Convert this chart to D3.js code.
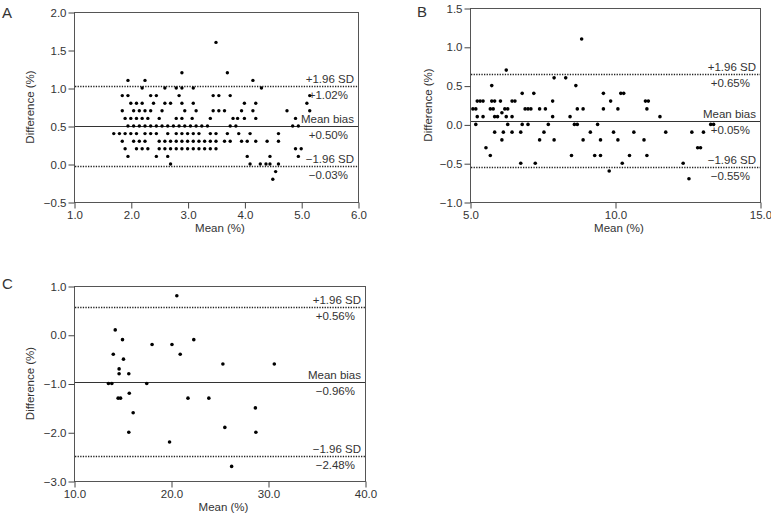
<!DOCTYPE html>
<html>
<head>
<meta charset="utf-8">
<script src="https://cdn.jsdelivr.net/npm/d3@7"></script>
<style>
  html, body { margin: 0; padding: 0; background: #fff; }
  svg { display: block; }
  text { font-family: "Liberation Sans", Arial, Helvetica, sans-serif; }
</style>
</head>
<body>
<svg id="chart" width="771" height="515"></svg>
<script>
// ---------- Panel A data (mean %, difference %) ----------
const aRowDiffs = [1.6, 1.2, 1.1, 1.0, 0.9, 0.8, 0.7, 0.6, 0.5, 0.4, 0.3, 0.2, 0.1, 0.0, -0.1, -0.2];
const aRowMeans = [
  [3.50],
  [2.90, 3.70],
  [1.95, 2.25, 4.15],
  [2.20, 2.60, 2.80, 2.90, 3.10, 4.30],
  [1.85, 1.95, 2.35, 2.45, 2.85, 3.45, 3.55, 3.75, 5.15],
  [2.00, 2.10, 2.20, 2.40, 2.60, 2.70, 2.90, 3.10, 4.00, 4.20, 5.10],
  [1.85, 2.05, 2.15, 2.25, 2.35, 2.55, 2.95, 3.15, 3.45, 3.55, 3.65, 3.95, 4.15, 4.75, 5.15],
  [1.90, 2.00, 2.10, 2.20, 2.30, 2.50, 2.80, 2.90, 3.08, 3.40, 3.80, 3.88, 4.00, 4.20, 4.90],
  [1.95, 2.05, 2.15, 2.25, 2.35, 2.45, 2.55, 2.65, 2.75, 2.85, 2.95, 3.05, 3.15, 3.25, 3.35, 3.75, 3.85, 4.85, 4.95],
  [1.70, 1.80, 1.90, 2.00, 2.10, 2.25, 2.35, 2.45, 2.65, 2.80, 2.90, 3.00, 3.10, 3.20, 3.40, 3.50, 3.70, 3.90, 4.10, 4.60],
  [1.85, 2.05, 2.15, 2.25, 2.50, 2.60, 2.70, 2.80, 2.90, 3.00, 3.10, 3.20, 3.30, 3.40, 3.50, 3.65, 3.75, 3.95, 4.05, 4.20, 4.40, 4.60],
  [1.90, 2.10, 2.20, 2.30, 2.50, 2.60, 2.70, 2.80, 2.90, 3.00, 3.10, 3.20, 3.30, 3.40, 3.50, 4.90, 5.00],
  [1.95, 2.45, 2.65, 4.05, 4.45, 4.95],
  [2.70, 4.10, 4.28, 4.38, 4.45, 4.60],
  [4.55],
  [4.50]
];
const aLimits = { upper: 1.02, mean: 0.50, lower: -0.03 };
const aLimitLabels = ["+1.02%", "+0.50%", "\u22120.03%"];
const aXTicks = [1, 2, 3, 4, 5, 6];
const aYTicks = [-0.5, 0, 0.5, 1.0, 1.5, 2.0];

// ---------- Panel B data ----------
const bMean = [5.10, 5.20, 5.25, 5.35, 5.45, 5.25, 5.45, 5.20,
  5.70, 5.80, 5.75, 5.85, 5.75, 5.85, 5.95, 5.55, 5.70, 5.85,
  6.05, 6.10, 6.10, 6.15, 6.20, 6.30, 6.25, 6.25, 6.30, 6.45, 6.55, 6.45, 6.45,
  6.75, 6.75, 6.80, 6.80, 6.90, 7.00, 7.10, 7.00, 7.20, 7.25, 7.40, 7.40, 7.55, 7.60, 7.70, 7.85, 7.85, 7.90, 7.90,
  8.30, 8.45, 8.50, 8.65, 8.70, 8.60, 8.70, 8.90, 8.90, 8.85,
  9.15, 9.30, 9.40, 9.50, 9.50, 9.60, 9.60, 9.80, 9.85, 9.95, 10.10, 10.10, 10.20, 10.30, 10.25, 10.50, 10.65,
  11.00, 11.05, 11.15, 11.10, 11.10, 11.55, 11.75, 12.35, 12.55, 12.65, 12.85, 12.95, 13.05, 13.30, 13.40];
const bDiff = [0.2, 0.2, 0.3, 0.3, 0.3, 0.1, 0.1, 0.0,
  0.2, 0.2, 0.3, 0.3, 0.5, 0.1, 0.1, -0.3, -0.4, -0.1,
  0.3, 0.15, -0.2, -0.1, 0.2, 0.2, 0.1, 0.7, 0.0, 0.3, 0.3, 0.1, -0.1,
  -0.1, -0.5, 0.4, 0.0, 0.2, 0.2, 0.2, 0.0, 0.4, -0.5, 0.2, -0.2, -0.1, 0.2, 0.0, 0.3, 0.1, 0.6, -0.2,
  0.6, 0.1, -0.4, 0.5, 0.2, 0.0, 0.0, 0.2, -0.2, 1.1,
  -0.1, -0.4, 0.0, -0.2, -0.4, 0.4, 0.2, -0.6, 0.3, -0.1, 0.2, -0.2, 0.4, 0.4, -0.5, -0.4, -0.1,
  -0.2, 0.3, 0.3, 0.2, -0.4, 0.1, -0.1, -0.5, -0.7, -0.1, -0.3, -0.3, -0.1, 0.0, 0.0];
const bLimits = { upper: 0.65, mean: 0.05, lower: -0.55 };
const bLimitLabels = ["+0.65%", "+0.05%", "\u22120.55%"];
const bXTicks = [5, 10, 15];
const bYTicks = [-1.0, -0.5, 0, 0.5, 1.0, 1.5];

// ---------- Panel C data ----------
const cMean = [20.60, 14.25, 15.00, 18.05, 20.10, 22.35, 14.05, 20.95, 15.10, 14.65,
  14.65, 15.65, 13.55, 13.90, 17.50, 14.55, 14.80, 15.70, 21.75, 16.10,
  15.65, 19.85, 25.35, 30.65, 23.90, 28.70, 25.55, 28.75, 26.25];
const cDiff = [0.8, 0.1, -0.1, -0.2, -0.2, -0.1, -0.4, -0.4, -0.5, -0.7,
  -0.8, -0.8, -1.0, -1.0, -1.0, -1.3, -1.3, -1.2, -1.3, -1.6,
  -2.0, -2.2, -0.6, -0.6, -1.3, -1.5, -1.9, -2.0, -2.7];
const cLimits = { upper: 0.56, mean: -0.96, lower: -2.48 };
const cLimitLabels = ["+0.56%", "\u22120.96%", "\u22122.48%"];
const cXTicks = [10, 20, 30, 40];
const cYTicks = [-3, -2, -1, 0, 1];

const limitTitles = ["+1.96 SD", "Mean bias", "\u22121.96 SD"];

const svg = d3.select("#chart");
const fmt = d3.format(".1f");

function drawPanel(o) {
  const g = svg.append("g");
  const x = d3.scaleLinear().domain(o.xDomain).range([o.left, o.right]);
  const y = d3.scaleLinear().domain(o.yDomain).range([o.bottom, o.top]);

  // frame
  g.append("rect")
    .attr("x", o.left + 0.5).attr("y", o.top + 0.5)
    .attr("width", o.right - o.left).attr("height", o.bottom - o.top)
    .attr("fill", "none").attr("stroke", "#555").attr("stroke-width", 1);

  const xa = g.append("g").attr("transform", `translate(0.5,${o.bottom + 0.5})`)
    .call(d3.axisBottom(x).tickValues(o.xTicks).tickFormat(fmt).tickSize(6).tickPadding(2));
  const ya = g.append("g").attr("transform", `translate(${o.left + 0.5},0.5)`)
    .call(d3.axisLeft(y).tickValues(o.yTicks).tickFormat(fmt).tickSize(6).tickPadding(2));
  [xa, ya].forEach(a => {
    a.select(".domain").remove();
    a.selectAll(".tick line").attr("stroke", "#444");
    a.selectAll(".tick text").attr("fill", "#333").style("font-size", "11.5px")
      .style("font-family", '"Liberation Sans", Arial, sans-serif');
  });

  // limit lines
  const lim = [o.limits.upper, o.limits.mean, o.limits.lower];
  lim.forEach((v, i) => {
    const yy = Math.round(y(v)) + 0.5;
    g.append("line")
      .attr("x1", o.left + 1).attr("x2", o.right)
      .attr("y1", yy).attr("y2", yy)
      .attr("stroke", i === 1 ? "#333" : "#222")
      .attr("stroke-width", i === 1 ? 1 : 1.3)
      .attr("stroke-dasharray", i === 1 ? null : "1.3,1.3");
    g.append("text").attr("x", o.right - 4).attr("y", yy - 4)
      .attr("text-anchor", "end").attr("fill", "#333").style("font-size", "11.5px")
      .text(limitTitles[i]);
    g.append("text").attr("x", o.right - 10).attr("y", yy + 12)
      .attr("text-anchor", "end").attr("fill", "#333").style("font-size", "11.5px")
      .text(o.limitLabels[i]);
  });

  // points
  g.append("g").selectAll("circle").data(o.points).join("circle")
    .attr("cx", d => x(d[0])).attr("cy", d => y(d[1]))
    .attr("r", o.r).attr("fill", "#000");

  // axis titles
  g.append("text").attr("x", (o.left + o.right) / 2 + 4).attr("y", o.bottom + 30)
    .attr("text-anchor", "middle").attr("fill", "#333").style("font-size", "11.5px")
    .text("Mean (%)");
  g.append("text")
    .attr("transform", `translate(${o.ytitleX},${(o.top + o.bottom) / 2}) rotate(-90)`)
    .attr("text-anchor", "middle").attr("fill", "#333").style("font-size", "11.5px")
    .text("Difference (%)");

  // panel letter
  g.append("text").attr("x", o.letterX).attr("y", o.letterY)
    .attr("fill", "#333").style("font-size", "15px").text(o.letter);
}

const aPoints = [];
aRowDiffs.forEach((dv, i) => aRowMeans[i].forEach(m => aPoints.push([m, dv])));
const bPoints = bMean.map((m, i) => [m, bDiff[i]]);
const cPoints = cMean.map((m, i) => [m, cDiff[i]]);

drawPanel({ letter: "A", letterX: 2, letterY: 18,
  left: 74, right: 358, top: 12, bottom: 202, ytitleX: 34,
  xDomain: [1, 6], yDomain: [-0.5, 2.0], xTicks: aXTicks, yTicks: aYTicks,
  limits: aLimits, limitLabels: aLimitLabels, points: aPoints, r: 1.7 });

drawPanel({ letter: "B", letterX: 417, letterY: 17,
  left: 470, right: 760, top: 8, bottom: 202, ytitleX: 432,
  xDomain: [5, 15], yDomain: [-1.0, 1.5], xTicks: bXTicks, yTicks: bYTicks,
  limits: bLimits, limitLabels: bLimitLabels, points: bPoints, r: 1.8 });

drawPanel({ letter: "C", letterX: 2, letterY: 289,
  left: 74, right: 365, top: 286, bottom: 481, ytitleX: 34,
  xDomain: [10, 40], yDomain: [-3, 1], xTicks: cXTicks, yTicks: cYTicks,
  limits: cLimits, limitLabels: cLimitLabels, points: cPoints, r: 1.8 });
</script>
</body>
</html>
